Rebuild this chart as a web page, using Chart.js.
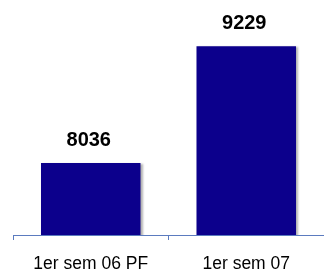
<!DOCTYPE html>
<html>
<head>
<meta charset="utf-8">
<script src="https://cdn.jsdelivr.net/npm/chart.js@4/dist/chart.umd.min.js"></script>
<style>
  html, body { margin: 0; padding: 0; background: #fff; }
  #wrap { width: 324px; height: 271px; }
</style>
</head>
<body>
<div id="wrap"><canvas id="chart"></canvas></div>
<script>
// datos del gráfico
const categories = ['1er sem 06 PF', '1er sem 07'];
const values = [8036, 9229];

const barColor = '#0c008c';
const axisColor = '#5b7bbf';

// etiquetas de valor encima de las barras
const valueLabels = {
  id: 'valueLabels',
  afterDatasetsDraw(chart) {
    const ctx = chart.ctx;
    const meta = chart.getDatasetMeta(0);
    ctx.save();
    ctx.font = 'bold 20px "Liberation Sans", Arial, sans-serif';
    ctx.fillStyle = '#000';
    ctx.textAlign = 'center';
    ctx.textBaseline = 'alphabetic';
    meta.data.forEach((bar, i) => {
      ctx.fillText(String(values[i]), bar.x - 2, bar.y - 17);
    });
    ctx.restore();
  }
};

// sombra gris suave a la derecha de las barras
const barShadow = {
  id: 'barShadow',
  beforeDatasetsDraw(chart) {
    const ctx = chart.ctx;
    ctx.save();
    ctx.shadowColor = 'rgba(0,0,0,0.3)';
    ctx.shadowOffsetX = 2;
    ctx.shadowOffsetY = 1;
    ctx.shadowBlur = 2;
  },
  afterDatasetsDraw(chart) {
    chart.ctx.restore();
  }
};

new Chart(document.getElementById('chart'), {
  type: 'bar',
  data: {
    labels: categories,
    datasets: [{
      data: values,
      backgroundColor: barColor,
      borderWidth: 0,
      categoryPercentage: 1,
      barPercentage: 0.64
    }]
  },
  options: {
    responsive: true,
    maintainAspectRatio: false,
    animation: false,
    layout: { padding: { left: 13, right: 0, top: 10, bottom: 0 } },
    plugins: { legend: { display: false }, tooltip: { enabled: false } },
    scales: {
      x: {
        afterFit(scale) { scale.height = 36; },
        grid: {
          display: true,
          drawOnChartArea: false,
          drawTicks: true,
          tickLength: 5,
          color: axisColor,
          offset: true
        },
        border: { display: true, color: axisColor, width: 1 },
        ticks: {
          color: '#000',
          padding: 15,
          font: { family: '"Liberation Sans", Arial, sans-serif', size: 17.5, lineHeight: 1 }
        }
      },
      y: {
        display: false,
        min: 7300,
        max: 9600
      }
    }
  },
  plugins: [barShadow, valueLabels]
});
</script>
</body>
</html>
